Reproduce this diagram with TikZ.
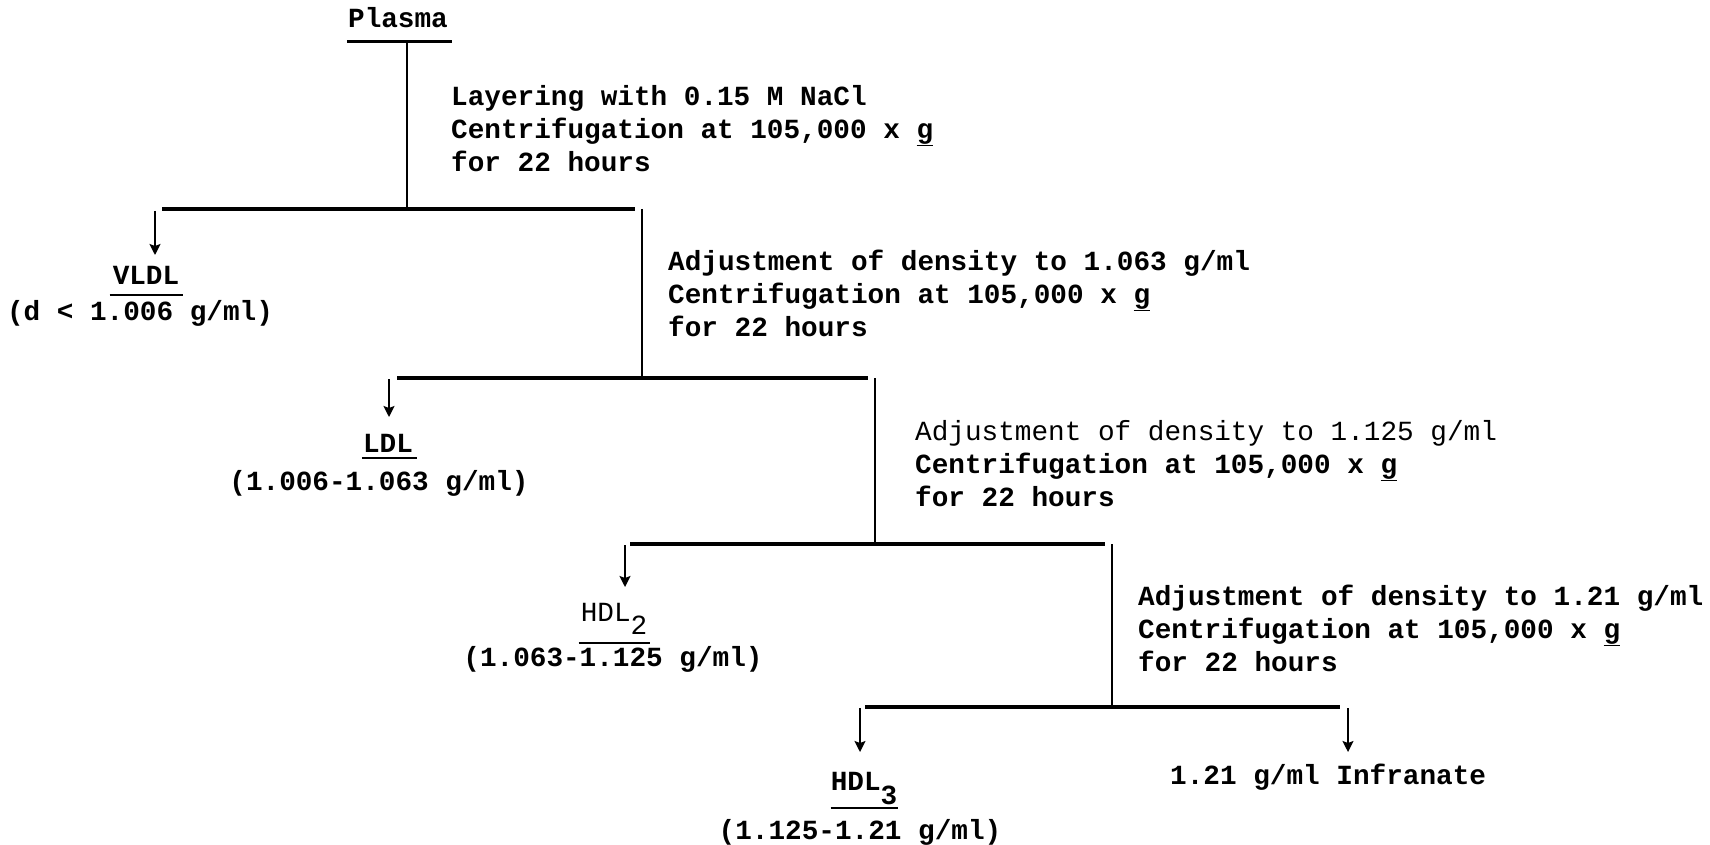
\documentclass[tikz,border=0pt]{standalone}
\usepackage{fontspec}
\setmonofont{Liberation Mono}
\usetikzlibrary{arrows.meta,calc}
\begin{document}
\begin{tikzpicture}[x=1pt,y=-1pt,
  txt/.style={font=\ttfamily\bfseries\fontsize{27.7}{33}\selectfont, inner sep=0pt, text=black},
  blk/.style={txt, anchor=north west, align=left},
  lbl/.style={txt, anchor=base},
  bar/.style={line width=3.2pt},
  stem/.style={line width=1.8pt},
  arr/.style={line width=1.8pt, -{Stealth[length=11pt,width=11pt,inset=2pt]}},
  uline/.style={line width=2.2pt}
]
\useasboundingbox[fill=white] (0,0) rectangle (1710,845);

% ---------- labels ----------
\node[lbl] (plasma) at (398,28) {Plasma};
\node[lbl] (vldl)  at (146,284) {VLDL};
\node[lbl] (vldlr) at (140,320) {(d < 1.006 g/ml)};
\node[lbl] (ldl)   at (388,452) {LDL};
\node[lbl] (ldlr)  at (379,490) {(1.006-1.063 g/ml)};
\node[lbl] (hdla)  at (614,621) {\mdseries HDL\raisebox{-13pt}{2}};
\node[lbl] (hdlar) at (613,666) {(1.063-1.125 g/ml)};
\node[lbl] (hdlb)  at (864,790) {HDL\raisebox{-14pt}{3}};
\node[lbl] (hdlbr) at (860,839) {(1.125-1.21 g/ml)};
\node[lbl, anchor=base west] (infr) at (1170,784) {1.21 g/ml Infranate};

% ---------- procedure texts ----------
\node[blk] (t1) at (451,81) {\rule{0pt}{24pt}Layering with 0.15 M NaCl\\
  Centrifugation at 105,000 x \underline{g}\\ for 22 hours};
\node[blk] (t2) at (668,246) {\rule{0pt}{24pt}Adjustment of density to 1.063 g/ml\\
  Centrifugation at 105,000 x \underline{g}\\ for 22 hours};
\node[blk] (t3) at (915,416) {\rule{0pt}{24pt}{\mdseries Adjustment of density to 1.125 g/ml}\\
  Centrifugation at 105,000 x \underline{g}\\ for 22 hours};
\node[blk] (t4) at (1138,581) {\rule{0pt}{24pt}Adjustment of density to 1.21 g/ml\\
  Centrifugation at 105,000 x \underline{g}\\ for 22 hours};

% ---------- underlines ----------
\draw[uline, line width=3pt] ($(plasma.base west)+(-1,14)$) -- ($(plasma.base east)+(4,14)$);
\draw[uline] ($(vldl.base west)+(-3,11)$) -- ($(vldl.base east)+(4,11)$);
\draw[uline] ($(ldl.base west)+(-1,6)$) -- ($(ldl.base east)+(4,6)$);
\draw[uline] ($(hdla.base west)+(-2,22)$) -- ($(hdla.base east)+(3,22)$);
\draw[uline] ($(hdlb.base west)+(0,18)$) -- ($(hdlb.base east)+(1,18)$);

% ---------- junction coordinates ----------
\coordinate (p0) at (407,42);
\coordinate (j1) at (407,209);
\coordinate (b1l) at (162,209);  \coordinate (b1r) at (635,209);
\coordinate (v2a) at (642,209);  \coordinate (v2b) at (642,378);
\coordinate (b2l) at (397,378);  \coordinate (b2r) at (868,378);
\coordinate (v3a) at (875,378);  \coordinate (v3b) at (875,544);
\coordinate (b3l) at (630,544);  \coordinate (b3r) at (1105,544);
\coordinate (v4a) at (1112,544); \coordinate (v4b) at (1112,707);
\coordinate (b4l) at (865,707);  \coordinate (b4r) at (1340,707);

\coordinate (a1s) at (155,211);  \coordinate (a1e) at (155,255);
\coordinate (a2s) at (389,379);  \coordinate (a2e) at (389,417);
\coordinate (a3s) at (625,545);  \coordinate (a3e) at (625,587);
\coordinate (a4s) at (860,708);  \coordinate (a4e) at (860,752);
\coordinate (a5s) at (1348,708); \coordinate (a5e) at (1348,752);

% ---------- lines ----------
\draw[stem] (p0) -- (j1);
\draw[bar] (b1l) -- (b1r);
\draw[stem] (v2a) -- (v2b);
\draw[bar] (b2l) -- (b2r);
\draw[stem, line width=1.5pt] (v3a) -- (v3b);
\draw[bar] (b3l) -- (b3r);
\draw[stem] (v4a) -- (v4b);
\draw[bar] (b4l) -- (b4r);

\draw[arr] (a1s) -- (a1e);
\draw[arr] (a2s) -- (a2e);
\draw[arr] (a3s) -- (a3e);
\draw[arr] (a4s) -- (a4e);
\draw[arr] (a5s) -- (a5e);
\end{tikzpicture}
\end{document}
